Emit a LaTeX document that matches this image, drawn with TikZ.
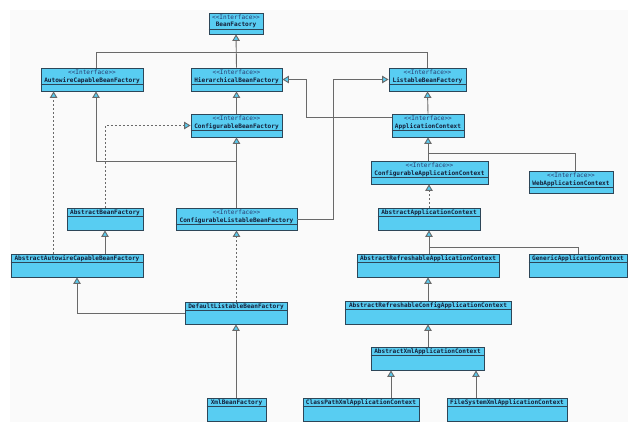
\documentclass[tikz,border=0pt]{standalone}
\usepackage{fontspec}
\setmonofont{DejaVu Sans Mono}
\usetikzlibrary{arrows.meta,fit,calc}
\definecolor{boxfill}{RGB}{88,205,242}
\definecolor{boxline}{RGB}{45,70,88}
\definecolor{conn}{RGB}{105,105,105}
\definecolor{nametext}{RGB}{20,32,58}
\definecolor{stertext}{RGB}{40,58,110}
\definecolor{bgpanel}{RGB}{250,250,250}
\tikzset{
  umlbox/.style={draw=boxline, fill=boxfill, line width=0.8pt, inner sep=0pt},
  divline/.style={draw=boxline, line width=0.7pt},
  stereo/.style={font=\ttfamily\fontsize{6.1}{7}\selectfont, text=stertext, inner sep=0pt},
  cname/.style={font=\ttfamily\bfseries\fontsize{6.1}{7}\selectfont, text=nametext, inner sep=0pt},
  conline/.style={draw=conn, line width=0.9pt},
  inh/.style={conline, -{Triangle[length=6.5pt, width=7.5pt, fill=boxfill]}},
  realiz/.style={inh, dash pattern=on 2pt off 2pt},
  dline/.style={conline, dash pattern=on 2pt off 2pt},
}
\newcommand\ifacebox[6]{%
  \node[umlbox, fit={(#2,#3) (#4,#5)}] (#1) {};
  \draw[divline] ($(#1.north west)+(0,16.7)$) -- ($(#1.north east)+(0,16.7)$);
  \node[stereo] (#1-st) at ($(#1.north)+(0,4.6)$) {<<Interface>>};
  \node[cname] (#1-nm) at ($(#1.north)+(0,12.6)$) {#6};
}
\newcommand\classbox[6]{%
  \node[umlbox, fit={(#2,#3) (#4,#5)}] (#1) {};
  \draw[divline] ($(#1.north west)+(0,9)$) -- ($(#1.north east)+(0,9)$);
  \node[cname] (#1-nm) at ($(#1.north)+(0,4.8)$) {#6};
}
\begin{document}
\begin{tikzpicture}[x=1pt, y=-1pt]
\useasboundingbox (0,0) rectangle (637,435);
\fill[bgpanel] (10,10) rectangle (628,422);

% interfaces
\ifacebox{bf}{209}{13}{263}{34}{BeanFactory}
\ifacebox{acbf}{41}{68}{143}{91}{AutowireCapableBeanFactory}
\ifacebox{hbf}{191}{68}{282}{91}{HierarchicalBeanFactory}
\ifacebox{lbf}{389}{68}{466}{91}{ListableBeanFactory}
\ifacebox{cbf}{191}{114}{282}{137}{ConfigurableBeanFactory}
\ifacebox{ac}{392}{114}{464}{137}{ApplicationContext}
\ifacebox{cac}{371}{161}{488}{184}{ConfigurableApplicationContext}
\ifacebox{wac}{529}{171}{613}{193}{WebApplicationContext}
\ifacebox{clbf}{176}{208}{297}{230}{ConfigurableListableBeanFactory}

% classes
\classbox{abf}{67}{208}{143}{230}{AbstractBeanFactory}
\classbox{aacbf}{11}{254}{143}{277}{AbstractAutowireCapableBeanFactory}
\classbox{dlbf}{185}{302}{287}{324}{DefaultListableBeanFactory}
\classbox{xbf}{207}{398}{266}{421}{XmlBeanFactory}
\classbox{aac}{378}{208}{480}{230}{AbstractApplicationContext}
\classbox{arac}{357}{254}{499}{277}{AbstractRefreshableApplicationContext}
\classbox{gac}{529}{254}{627}{277}{GenericApplicationContext}
\classbox{arcac}{345}{301}{511}{324}{AbstractRefreshableConfigApplicationContext}
\classbox{axac}{371}{347}{484}{370}{AbstractXmlApplicationContext}
\classbox{cpx}{303}{398}{419}{421}{ClassPathXmlApplicationContext}
\classbox{fsx}{447}{398}{567}{421}{FileSystemXmlApplicationContext}

% join points
\coordinate (jbf) at ($(bf.south)+(0,18)$);
\coordinate (acbfr) at ($(acbf.north)+(4,0)$);
\coordinate (acbfb) at ($(acbf.south)+(4,0)$);
\coordinate (jcl) at ($(cbf.south)+(0,24)$);
\coordinate (jac) at ($(ac.south)+(0,16)$);
\coordinate (wacr) at ($(wac.north)+(4,0)$);
\coordinate (jaac) at ($(aac.south)+(0,17)$);
\coordinate (aacl) at ($(aacbf.north west)+(43,0)$);
\coordinate (cpxt) at ($(cpx.north)+(30,0)$);
\coordinate (fsxt) at ($(fsx.north)+(-31,0)$);

% BeanFactory hierarchy
\draw[inh] (hbf.north) -- (bf.south);
\draw[conline] (acbfr) |- (jbf);
\draw[conline] (lbf.north) |- (jbf);
\draw[inh] (cbf.north) -- (hbf.south);
\draw[inh] (clbf.north) -- (cbf.south);
\draw[inh] (jcl) -| (acbfb);
\draw[inh] (clbf.east) -- ++(36,0) |- (lbf.west);
\draw[inh] ($(ac.north west)+(0,4)$) -- ++(-85,0) |- (hbf.east);
\draw[inh] (ac.north) -- (lbf.south);

% ApplicationContext hierarchy
\draw[inh] (cac.north -| ac.south) -- (ac.south);
\draw[conline] (wacr) |- (jac);
\draw[realiz] (aac.north) -- (cac.south -| aac.north);
\draw[inh] (arac.north -| aac.south) -- (aac.south);
\draw[conline] (gac.north) |- (jaac);
\draw[inh] (arcac.north -| arac.south) -- (arac.south);
\draw[inh] (axac.north -| arcac.south) -- (arcac.south);
\draw[inh] (cpxt) -- (cpxt |- axac.south);
\draw[inh] (fsxt) -- (fsxt |- axac.south);

% factory classes
\draw[realiz] (abf.north) |- (cbf.west);
\draw[realiz] (aacl) -- (aacl |- acbf.south);
\draw[inh] (aacbf.north -| abf.south) -- (abf.south);
\draw[inh] (dlbf.west) -| (aacbf.south);
\draw[realiz] (dlbf.north -| clbf.south) -- (clbf.south);
\draw[inh] (xbf.north -| dlbf.south) -- (dlbf.south);
\end{tikzpicture}
\end{document}
